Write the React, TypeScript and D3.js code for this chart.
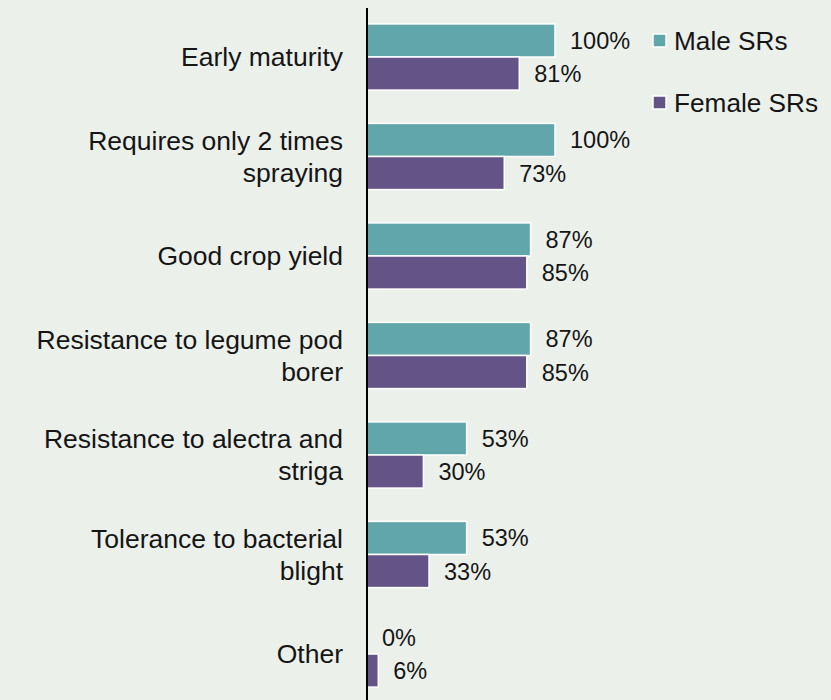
import React from "react";
import * as d3 from "d3";

const categories: string[][] = [
  ["Early maturity"],
  ["Requires only 2 times", "spraying"],
  ["Good crop yield"],
  ["Resistance to legume pod", "borer"],
  ["Resistance to alectra and", "striga"],
  ["Tolerance to bacterial", "blight"],
  ["Other"],
];
const maleValues = [100, 100, 87, 87, 53, 53, 0];
const femaleValues = [81, 73, 85, 85, 30, 33, 6];
const seriesNames = ["Male SRs", "Female SRs"];
const seriesColors = ["#60a6aa", "#635386"];

const W = 831;
const H = 700;
const BG = "#ecf0eb";
const FONT = "'Liberation Sans', Arial, Helvetica, sans-serif";

export default function App() {
  const x0 = 367;
  const x = d3.scaleLinear().domain([0, 100]).range([x0, x0 + 188]);
  const y = d3
    .scaleBand<number>()
    .domain(categories.map((_, i) => i))
    .range([7, 704])
    .paddingInner(0.335)
    .paddingOuter(0.17);
  const sub = d3.scaleBand<number>().domain([0, 1]).range([0, y.bandwidth()]);
  const series = [maleValues, femaleValues];

  return (
    <svg
      width={W}
      height={H}
      style={{ position: "fixed", left: 0, top: 0, background: BG }}
      fontFamily={FONT}
    >
      <rect x={0} y={0} width={W} height={H} fill={BG} />
      {categories.map((lines, i) => {
        const top = y(i)!;
        const cy = top + y.bandwidth() / 2;
        return (
          <g key={i}>
            {series.map((vals, s) => {
              const by = top + sub(s)!;
              const bh = sub.bandwidth();
              const v = vals[i];
              return (
                <g key={s}>
                  {v > 0 && (
                    <rect
                      x={x(0)}
                      y={by}
                      width={x(v) - x(0)}
                      height={bh}
                      fill={seriesColors[s]}
                      stroke="#ffffff"
                      strokeWidth={1.5}
                    />
                  )}
                  <text
                    x={x(v) + 15}
                    y={by + bh / 2}
                    dy="0.36em"
                    fontSize={23.5}
                    fill="#151515"
                  >
                    {v + "%"}
                  </text>
                </g>
              );
            })}
            {lines.map((ln, k) => (
              <text
                key={k}
                x={343}
                y={cy - 0.5 + (k - (lines.length - 1) / 2) * 32}
                dy="0.36em"
                textAnchor="end"
                fontSize={26.5}
                fill="#151515"
              >
                {ln}
              </text>
            ))}
          </g>
        );
      })}
      <line x1={x0} x2={x0} y1={8} y2={H} stroke="#000" strokeWidth={2} />
      {seriesNames.map((name, s) => (
        <g key={name} transform={`translate(653, ${34 + s * 62})`}>
          <rect width={13} height={13} fill={seriesColors[s]} stroke="#fff" strokeWidth={1.5} />
          <text x={21} y={6.5} dy="0.36em" fontSize={26.2} fill="#151515">
            {name}
          </text>
        </g>
      ))}
    </svg>
  );
}
